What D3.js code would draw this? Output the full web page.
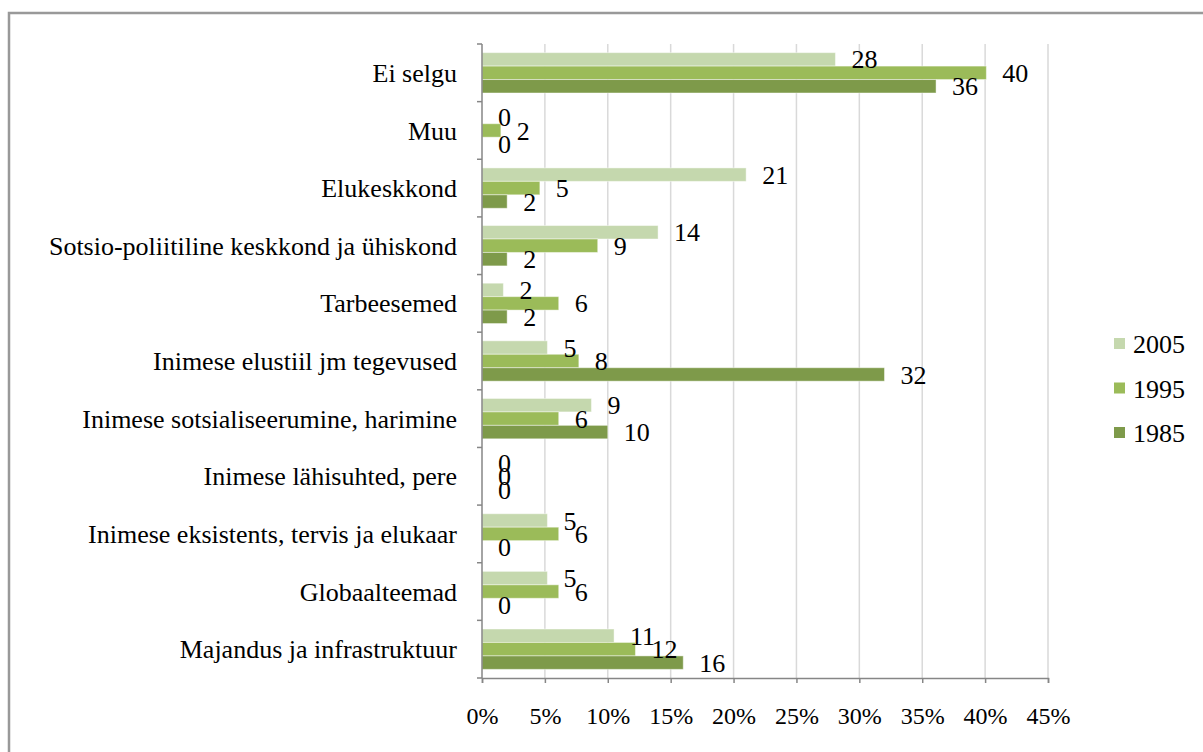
<!DOCTYPE html>
<html>
<head>
<meta charset="utf-8">
<script src="https://cdn.jsdelivr.net/npm/d3@7"></script>
<style>
  body { margin: 0; background: #fff; }
  svg text { font-family: "Liberation Serif", "Times New Roman", serif; fill: #000; }
</style>
</head>
<body>
<svg id="chart" width="1203" height="752"></svg>
<script>
// andmed (loetud pildilt, protsendid)
var categories = ["Ei selgu", "Muu", "Elukeskkond", "Sotsio-poliitiline keskkond ja ühiskond",
  "Tarbeesemed", "Inimese elustiil jm tegevused", "Inimese sotsialiseerumine, harimine",
  "Inimese lähisuhted, pere", "Inimese eksistents, tervis ja elukaar", "Globaalteemad",
  "Majandus ja infrastruktuur"];
var years = ["2005", "1995", "1985"];
var values2005 = [28.1, 0, 21.0, 14.0, 1.7, 5.2, 8.7, 0, 5.2, 5.2, 10.5];
var values1995 = [40.1, 1.5, 4.6, 9.2, 6.1, 7.7, 6.1, 0, 6.1, 6.1, 12.2];
var values1985 = [36.1, 0, 2.0, 2.0, 2.0, 32.0, 10.0, 0, 0, 0, 16.0];
var xTicks = [0, 5, 10, 15, 20, 25, 30, 35, 40, 45];
var colors = ["#c5d8ae", "#9bbb59", "#7e9a4a"];

var series = [values2005, values1995, values1985];
var svg = d3.select("#chart");

var plotLeft = 482, plotRight = 1048, plotTop = 44, plotBottom = 678;

// raam
svg.append("path")
  .attr("d", "M9,760 L9,13 L1210,13")
  .attr("fill", "none").attr("stroke", "#999").attr("stroke-width", 2.5);

var x = d3.scaleLinear().domain([0, 45]).range([plotLeft, plotRight]);
var y = d3.scaleBand().domain(categories).range([plotTop, plotBottom])
  .paddingInner(0.3).paddingOuter(0.15);
var yInner = d3.scaleBand().domain(years).range([0, y.bandwidth()]);

// ruudustik
svg.append("g").selectAll("line")
  .data(xTicks.slice(1))
  .enter().append("line")
  .attr("x1", function(d) { return x(d); })
  .attr("x2", function(d) { return x(d); })
  .attr("y1", plotTop).attr("y2", plotBottom)
  .attr("stroke", "#d9d9d9").attr("stroke-width", 1.5);

// tulbad
var groups = svg.append("g").selectAll("g")
  .data(categories)
  .enter().append("g")
  .attr("transform", function(d) { return "translate(0," + y(d) + ")"; });

years.forEach(function(yr, k) {
  groups.append("rect")
    .attr("x", x(0))
    .attr("y", yInner(yr))
    .attr("width", function(d, i) { return x(series[k][i]) - x(0); })
    .attr("height", yInner.bandwidth())
    .attr("fill", colors[k])
    .attr("stroke", "rgba(255,255,255,0.45)")
    .attr("stroke-width", 1);
});

// väärtuste sildid
years.forEach(function(yr, k) {
  groups.append("text")
    .attr("x", function(d, i) { return x(series[k][i]) + 16; })
    .attr("y", yInner(yr) + yInner.bandwidth() / 2)
    .attr("dy", "0.35em")
    .style("font-size", "26px")
    .text(function(d, i) { return Math.round(series[k][i]); });
});

// teljed
var xAxis = svg.append("g")
  .attr("transform", "translate(0," + plotBottom + ")")
  .call(d3.axisBottom(x).tickValues(xTicks).tickSize(5).tickPadding(24)
    .tickFormat(function(d) { return d + "%"; }));
xAxis.select(".domain").attr("stroke", "#868686").attr("stroke-width", 1.5);
xAxis.selectAll(".tick line").attr("stroke", "#868686").attr("stroke-width", 1.5);
xAxis.selectAll("text").style("font-size", "24px").attr("font-family", null);

var yAxis = svg.append("g").attr("transform", "translate(" + plotLeft + ",0)");
yAxis.append("line")
  .attr("x1", 0).attr("x2", 0).attr("y1", plotTop).attr("y2", plotBottom)
  .attr("stroke", "#868686").attr("stroke-width", 1.5);
var bounds = categories.map(function(c) { return y(c) - y.step() * 0.15; });
bounds.push(plotBottom);
yAxis.selectAll(".tk").data(bounds).enter().append("line")
  .attr("x1", -5).attr("x2", 0)
  .attr("y1", function(d) { return d; }).attr("y2", function(d) { return d; })
  .attr("stroke", "#868686").attr("stroke-width", 1.5);
yAxis.selectAll("text").data(categories).enter().append("text")
  .attr("x", -25)
  .attr("y", function(d) { return y(d) + y.bandwidth() / 2; })
  .attr("dy", "0.35em")
  .attr("text-anchor", "end")
  .style("font-size", "26px")
  .text(function(d) { return d; });

// legend
var legend = svg.append("g").selectAll("g")
  .data(years).enter().append("g")
  .attr("transform", function(d, i) { return "translate(1114," + (344 + i * 44.5) + ")"; });
legend.append("rect")
  .attr("x", 0).attr("y", -6).attr("width", 11).attr("height", 11)
  .attr("fill", function(d, i) { return colors[i]; });
legend.append("text")
  .attr("x", 19).attr("y", 0).attr("dy", "0.35em")
  .style("font-size", "26px")
  .text(function(d) { return d; });
</script>
</body>
</html>
